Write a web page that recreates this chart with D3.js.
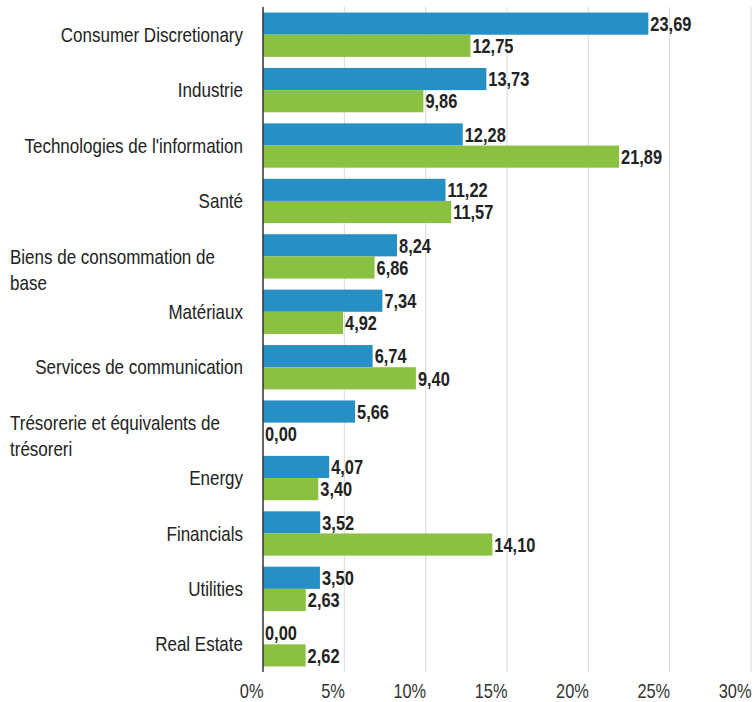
<!DOCTYPE html>
<html><head><meta charset="utf-8">
<script src="https://cdn.jsdelivr.net/npm/d3@7"></script>
<style>body{margin:0;background:#fff;} text{font-family:"Liberation Sans",Arial,sans-serif;}</style>
</head><body>
<svg id="c" width="752" height="702"></svg>
<script>
const categories = ["Consumer Discretionary","Industrie","Technologies de l'information","Santé","Biens de consommation de base","Matériaux","Services de communication","Trésorerie et équivalents de trésoreri","Energy","Financials","Utilities","Real Estate"];
const seriesA = [23.69,13.73,12.28,11.22,8.24,7.34,6.74,5.66,4.07,3.52,3.50,0.00];
const seriesB = [12.75,9.86,21.89,11.57,6.86,4.92,9.40,0.00,3.40,14.10,2.63,2.62];
const tickValues = [0,5,10,15,20,25,30];
const seriesNames = ["A","B"];
const colors = ["#2690c4","#8bc140"];
const SX_CAT = 0.85, SX_NUM = 0.82;

const svg = d3.select("#c");
const x = d3.scaleLinear().domain([0,30]).range([263,751]);
const y = d3.scaleBand().domain(categories).range([7,672]).paddingInner(0.2).paddingOuter(0.1);
const ySub = d3.scaleBand().domain(seriesNames).range([0,y.bandwidth()]);

function narrow(parent, px, py, sx){
  return parent.append("g").attr("transform",`translate(${px},${py}) scale(${sx},1)`).append("text");
}

// grid
svg.append("g").selectAll("line").data(tickValues.slice(1)).join("line")
  .attr("x1",d=>x(d)).attr("x2",d=>x(d)).attr("y1",7).attr("y2",672)
  .attr("stroke","#d9d9d9").attr("stroke-width",1);

// x axis labels (axis generator for positions, text narrowed)
const xAxis = d3.axisBottom(x).tickValues(tickValues).tickFormat(d=>d+"%").tickSize(0);
const gx = svg.append("g").attr("transform","translate(0,672)").call(xAxis);
gx.select(".domain").remove();
gx.selectAll(".tick text")
  .attr("text-anchor","end").attr("dy",0).attr("y",0)
  .attr("transform",`translate(0,26) scale(${SX_NUM},1)`)
  .attr("font-size",20).attr("fill","#333").style("font-family","'Liberation Sans',Arial,sans-serif");

// bars
const data = categories.map((c,i)=>({cat:c, vals:[seriesA[i],seriesB[i]]}));
const groups = svg.append("g").selectAll("g").data(data).join("g")
  .attr("transform",d=>`translate(0,${y(d.cat)})`);
groups.selectAll("rect").data(d=>d.vals.map((v,j)=>({v,s:seriesNames[j],j}))).join("rect")
  .attr("x",x(0)).attr("y",d=>ySub(d.s)).attr("width",d=>x(d.v)-x(0)).attr("height",ySub.bandwidth())
  .attr("fill",d=>colors[d.j]);
groups.selectAll("g.lbl").data(d=>d.vals.map((v,j)=>({v,s:seriesNames[j],j}))).join("g")
  .attr("class","lbl")
  .attr("transform",d=>`translate(${x(d.v)+2},${ySub(d.s)+ySub.bandwidth()/2}) scale(${SX_NUM},1)`)
  .append("text").attr("dy","0.36em")
  .attr("font-size",20).attr("font-weight","bold").attr("fill","#222")
  .text(d=>d3.format(".2f")(d.v).replace(".",","));

// axis line at 0
svg.append("line").attr("x1",x(0)).attr("x2",x(0)).attr("y1",7).attr("y2",672)
  .attr("stroke","#333").attr("stroke-width",1.5);

// category labels
const maxW = 233;
const lab = svg.append("g");
categories.forEach(c=>{
  const cy = y(c)+y.bandwidth()/2;
  const probe = lab.append("text").attr("font-size",20).text(c);
  const w = probe.node().getComputedTextLength()*SX_CAT;
  if (w <= maxW) {
    probe.remove();
    narrow(lab, 243, cy, SX_CAT).attr("dy","0.36em").attr("text-anchor","end")
      .attr("font-size",20).attr("fill","#222").text(c);
  } else {
    const words = c.split(" "); const lines=[]; let cur="";
    words.forEach(wd=>{
      const test = cur ? cur+" "+wd : wd;
      probe.text(test);
      if (probe.node().getComputedTextLength()*SX_CAT > maxW && cur) { lines.push(cur); cur = wd; } else cur = test;
    });
    lines.push(cur); probe.remove();
    lines.forEach((ln,k)=>{
      narrow(lab, 10, cy + k*26.5, SX_CAT).attr("dy","0.36em")
        .attr("font-size",20).attr("fill","#222").text(ln);
    });
  }
});
</script>
</body></html>
